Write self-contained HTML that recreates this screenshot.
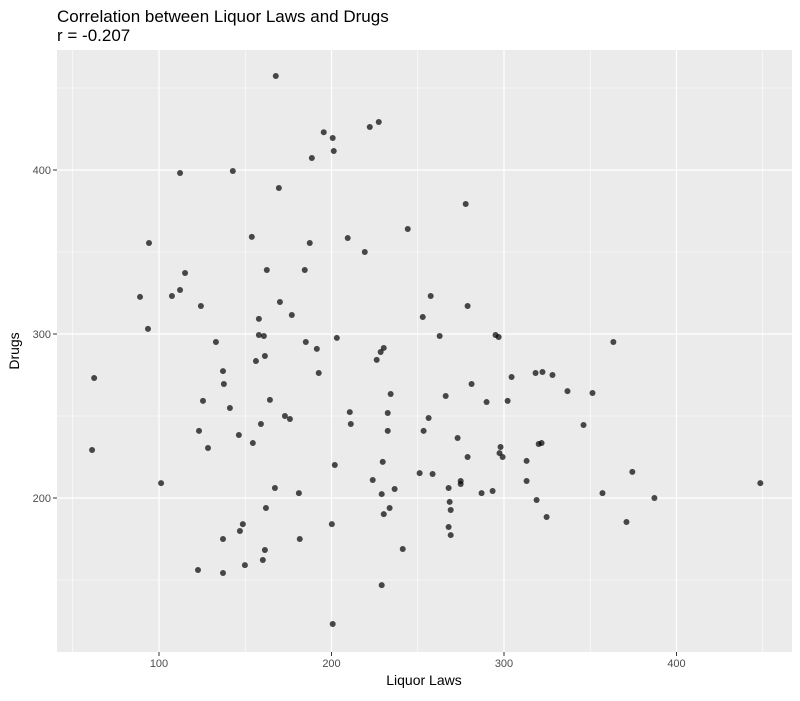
<!DOCTYPE html>
<html><head><meta charset="utf-8"><style>
body{margin:0;background:#fff;font-family:"Liberation Sans",sans-serif}
</style></head><body>
<svg id="c" width="800" height="696" xmlns="http://www.w3.org/2000/svg">
<text x="57" y="22" font-size="17" fill="#000">Correlation between Liquor Laws and Drugs</text>
<text x="57" y="41" font-size="17" fill="#000">r = -0.207</text>
<rect x="57" y="50" width="735" height="602" fill="#ebebeb"/>
<g id="grid"></g><g id="pts"></g><g id="axes"></g>
<text x="424" y="685" font-size="14" text-anchor="middle">Liquor Laws</text>
<text transform="translate(19,351) rotate(-90)" font-size="14" text-anchor="middle">Drugs</text>
</svg>
<script>
const xs=[167.7,195.5,200.7,227.4,222.2,201.3,188.6,112.2,142.8,169.5,277.8,244.2,94.2,153.8,209.4,219.3,115.1,162.5,184.5,187.4,89.0,112.2,107.5,124.3,157.9,257.5,278.9,252.9,262.7,177.0,157.9,160.8,133.0,185.1,170.1,191.5,230.3,203.1,161.4,156.2,93.6,228.5,226.2,363.4,296.9,295.1,62.4,137.1,137.6,192.6,304.4,281.2,322.3,318.3,328.1,336.8,351.3,234.3,266.2,289.9,302.1,125.5,164.3,141.1,173.0,175.9,159.1,210.6,232.6,211.2,256.3,253.4,232.6,273.1,154.4,123.2,128.4,146.3,321.8,320.1,346.1,298.0,297.4,299.2,313.1,61.2,201.9,229.7,374.4,278.9,223.9,258.6,251.1,274.9,274.9,267.9,236.6,101.2,181.1,313.1,293.4,287.0,357.1,387.2,318.9,448.6,167.2,162.0,200.2,229.1,230.3,233.7,268.5,269.1,148.6,146.9,267.9,269.1,241.3,137.1,161.4,160.2,181.6,122.6,149.8,137.1,229.1,200.7,371.0,324.7];
const ys=[457.3,423.0,419.5,429.3,426.2,411.6,407.3,398.2,399.4,389.0,379.3,364.0,355.5,359.2,358.5,350.0,337.2,339.0,339.0,355.5,322.6,326.8,323.2,317.1,309.2,323.2,317.1,310.4,298.8,311.6,299.4,298.8,295.1,295.1,319.5,290.9,291.5,297.6,286.6,283.5,303.1,289.0,284.2,295.1,298.2,299.4,273.2,277.4,269.5,276.2,273.8,269.5,276.8,276.2,275.0,265.2,264.0,263.4,262.2,258.5,259.2,259.2,259.8,254.9,250.0,248.2,245.1,252.4,251.8,245.1,248.8,240.9,240.9,236.6,233.5,240.9,230.5,238.4,233.5,232.9,244.5,231.1,227.4,225.0,222.6,229.3,220.1,222.0,215.9,225.0,211.0,214.6,215.2,210.4,208.5,206.1,205.5,209.1,203.0,210.4,204.3,203.0,203.0,200,198.8,209.1,206.1,193.9,184.1,202.4,190.2,193.9,197.6,192.7,184.1,179.9,182.3,177.4,168.9,175.0,168.3,162.2,175.0,156.1,159.1,154.3,146.9,123.2,185.4,188.4];
const xTicks=[100,200,300,400], yTicks=[200,300,400];
const X=v=>159+(v-100)*1.725, Y=v=>498-(v-200)*1.64;
const NS="http://www.w3.org/2000/svg";
function mk(t,a,p){const e=document.createElementNS(NS,t);for(const k in a)e.setAttribute(k,a[k]);p.appendChild(e);return e;}
const g=document.getElementById('grid'),ax=document.getElementById('axes'),pg=document.getElementById('pts');
[50,150,250,350,450].forEach(v=>{const l=mk('line',{x1:X(v),x2:X(v),y1:50,y2:652,stroke:'#fff','stroke-width':0.6},g);});
[150,250,350,450].forEach(v=>{const l=mk('line',{x1:57,x2:792,y1:Y(v),y2:Y(v),stroke:'#fff','stroke-width':0.6},g);});
xTicks.forEach(v=>{const l=mk('line',{x1:X(v),x2:X(v),y1:50,y2:652,stroke:'#fff','stroke-width':1.2},g);
const t=mk('line',{x1:X(v),x2:X(v),y1:652,y2:656,stroke:'#333'},ax);
const tx=mk('text',{x:X(v),y:667,'font-size':11,fill:'#4d4d4d','text-anchor':'middle'},ax);tx.textContent=v;});
yTicks.forEach(v=>{const l=mk('line',{x1:57,x2:792,y1:Y(v),y2:Y(v),stroke:'#fff','stroke-width':1.2},g);
const t=mk('line',{x1:53,x2:57,y1:Y(v),y2:Y(v),stroke:'#333'},ax);
const tx=mk('text',{x:51,y:Y(v)+4,'font-size':11,fill:'#4d4d4d','text-anchor':'end'},ax);tx.textContent=v;});
xs.forEach((v,i)=>{const c=mk('circle',{cx:X(v),cy:Y(ys[i]),r:3,fill:'#000','fill-opacity':0.7},pg);});
</script>
</body></html>
